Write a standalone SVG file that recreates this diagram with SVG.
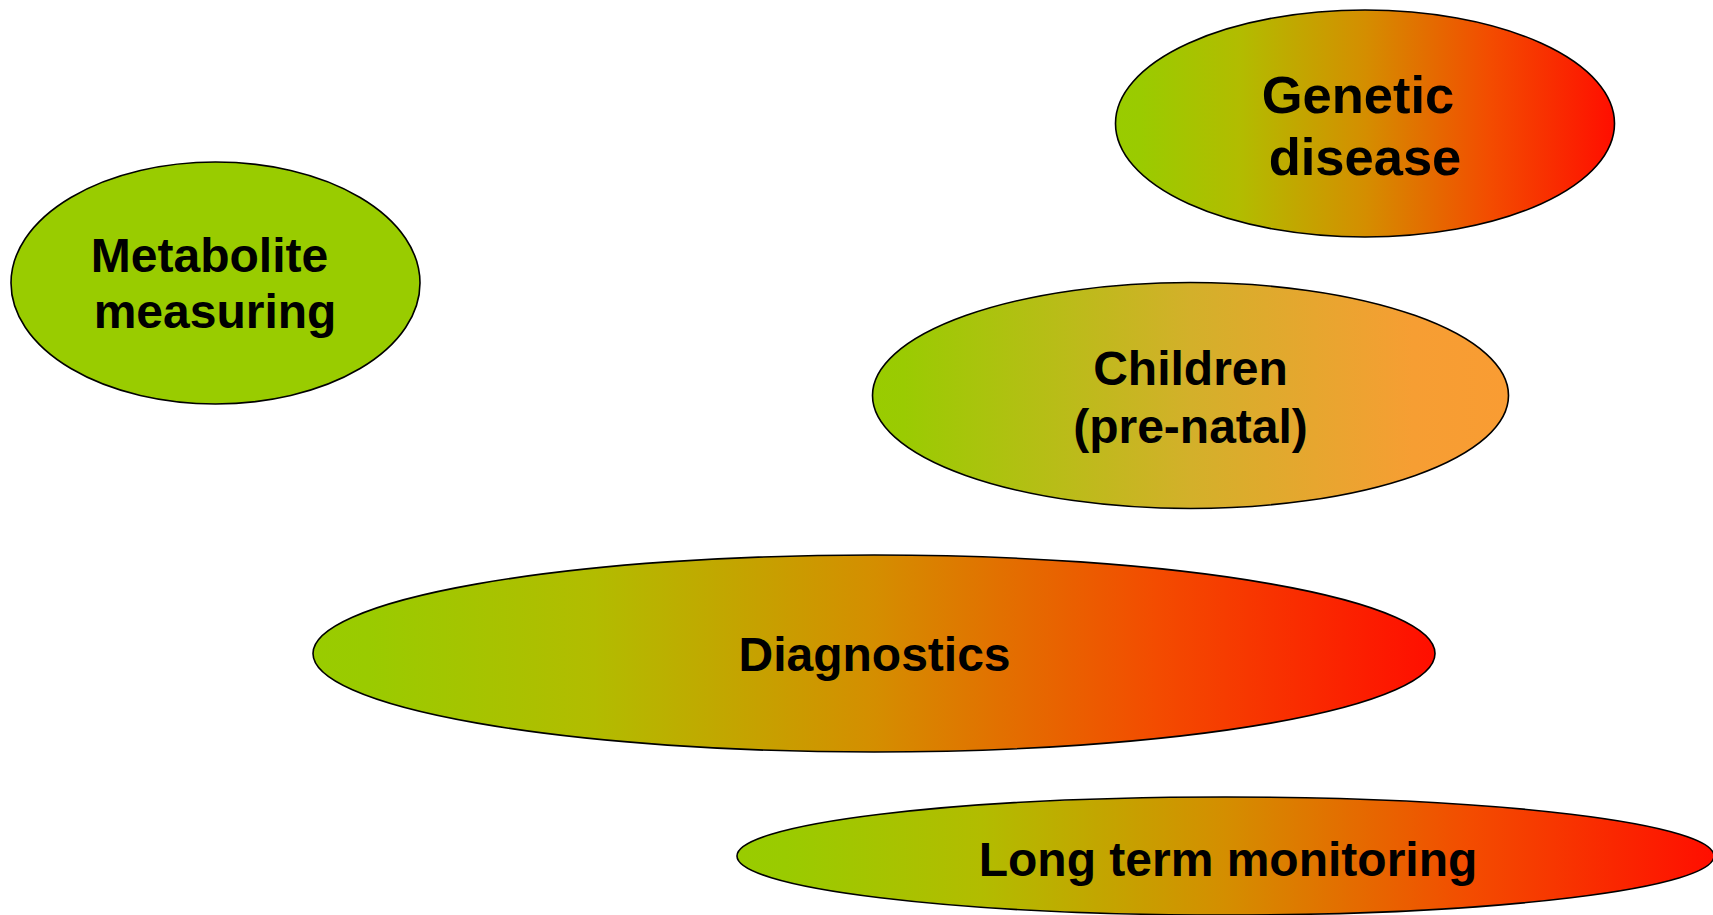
<svg xmlns="http://www.w3.org/2000/svg" width="1713" height="915" viewBox="0 0 1713 915">
<style>
.n{stroke:#000;stroke-width:1.6}
.t{font-family:"Liberation Sans",Arial,sans-serif;font-weight:bold;font-size:48px;fill:#000;text-anchor:middle}
.big{font-size:52.5px}
</style>
<defs>
<linearGradient id="gr" x1="0" y1="0" x2="1" y2="0">
<stop offset="0" stop-color="#99CC00"/>
<stop offset="0.05" stop-color="#9ACB00"/>
<stop offset="0.25" stop-color="#B2BC00"/>
<stop offset="0.5" stop-color="#D48E00"/>
<stop offset="0.75" stop-color="#F34C00"/>
<stop offset="1" stop-color="#FF0E00"/>
</linearGradient>
<linearGradient id="go" x1="0" y1="0" x2="1" y2="0">
<stop offset="0" stop-color="#99CC00"/>
<stop offset="0.05" stop-color="#9ACB02"/>
<stop offset="0.5" stop-color="#D3B02A"/>
<stop offset="0.85" stop-color="#F69E33"/>
<stop offset="1" stop-color="#F99C33"/>
</linearGradient>
</defs>
<rect width="1713" height="915" fill="#fff"/>
<g id="metabolite">
<ellipse class="n" cx="215.5" cy="283" rx="204.5" ry="121" fill="#99CC00"/>
<text class="t" x="209.5" y="271.5">Metabolite</text>
<text class="t" x="215" y="328">measuring</text>
</g>
<g id="genetic">
<ellipse class="n" cx="1365" cy="123.5" rx="249.5" ry="113.5" fill="url(#gr)"/>
<text class="t big" x="1358" y="112.5">Genetic</text>
<text class="t big" x="1365" y="175">disease</text>
</g>
<g id="children">
<ellipse class="n" cx="1190.5" cy="395.5" rx="318" ry="113" fill="url(#go)"/>
<text class="t" x="1190.5" y="385">Children</text>
<text class="t" x="1190.5" y="442.5">(pre-natal)</text>
</g>
<g id="diagnostics">
<ellipse class="n" cx="874" cy="653.5" rx="561" ry="98.5" fill="url(#gr)"/>
<text class="t" x="874.5" y="670.5">Diagnostics</text>
</g>
<g id="longterm">
<ellipse class="n" cx="1225.5" cy="856" rx="488.5" ry="59" fill="url(#gr)"/>
<text class="t" x="1228" y="875.5">Long term monitoring</text>
</g>
<g id="connectors"/>
</svg>
